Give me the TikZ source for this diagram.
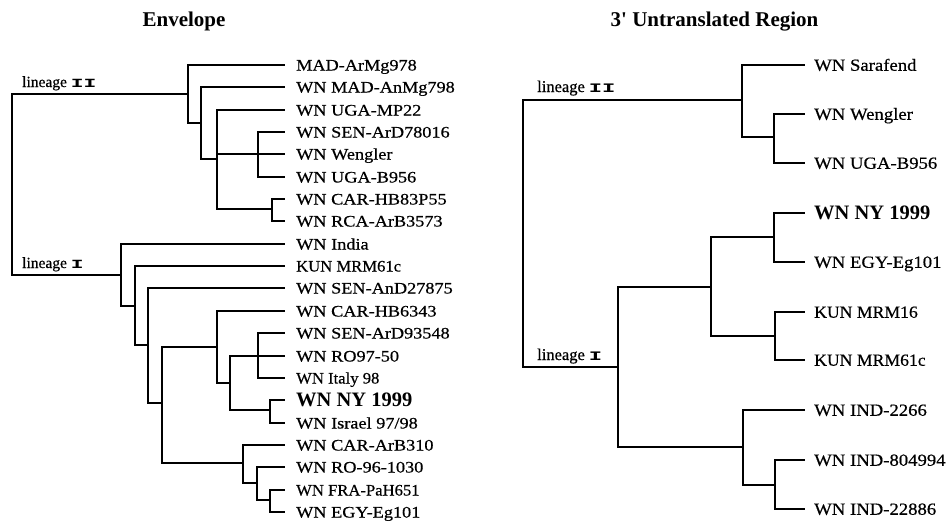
\documentclass[tikz,border=0pt]{standalone}
\usepackage{fontspec}
\setmainfont{Liberation Serif}
\newfontfamily\lfnt[FakeStretch=1.14,FakeBold=0.5]{Liberation Serif}
\newfontfamily\lnarrow[FakeStretch=1.04,FakeBold=0.5]{Liberation Serif}
\newfontfamily\rfnt[FakeStretch=1.1,FakeBold=0.5]{Liberation Serif}
\newfontfamily\ttlfnt[Ligatures=TeXOff]{Liberation Serif}
\newfontfamily\linfnt[FakeBold=0.6]{Liberation Serif}
\newfontfamily\monof[FakeStretch=1.7]{Liberation Mono}
\begin{document}
\begin{tikzpicture}[x=1pt,y=-1pt,
  br/.style={line width=2pt, line join=miter},
  leafL/.style={anchor=west, inner xsep=11pt, inner ysep=0pt, text height=11pt, text depth=0pt,
     font=\lfnt\fontsize{16}{18}\selectfont},
  leafLn/.style={leafL, font=\lnarrow\fontsize{16}{18}\selectfont},
  leafR/.style={anchor=west, inner xsep=9pt, inner ysep=0pt, text height=11.5pt, text depth=0pt,
     font=\rfnt\fontsize{17}{19}\selectfont},
  leafRn/.style={leafR, font=\lnarrow\fontsize{17}{19}\selectfont},
  nybold/.style={text height=13.5pt, font=\ttlfnt\bfseries\fontsize{20.5}{23}\selectfont},
  ttl/.style={anchor=base, inner sep=0pt, font=\ttlfnt\bfseries\fontsize{21}{24}\selectfont},
  lin/.style={anchor=base west, inner sep=0pt}
]
\useasboundingbox (0,0) rectangle (952,523);

% titles
\node[ttl] (t1) at (184,26.5) {Envelope};
\node[ttl] (t2) at (714.5,26.5) {3' Untranslated Region};

% ---------- Envelope tree leaves ----------
\node[leafL] (l0) at (285,65) {MAD-ArMg978};
\node[leafL] (l1) at (285,87) {WN MAD-AnMg798};
\node[leafL] (l2) at (285,110) {WN UGA-MP22};
\node[leafL] (l3) at (285,132) {WN SEN-ArD78016};
\node[leafL] (l4) at (285,154) {WN Wengler};
\node[leafL] (l5) at (285,177) {WN UGA-B956};
\node[leafL] (l6) at (285,199) {WN CAR-HB83P55};
\node[leafL] (l7) at (285,221) {WN RCA-ArB3573};
\node[leafL] (l8) at (285,244) {WN India};
\node[leafLn] (l9) at (285,266) {KUN MRM61c};
\node[leafL] (l10) at (285,288) {WN SEN-AnD27875};
\node[leafL] (l11) at (285,311) {WN CAR-HB6343};
\node[leafL] (l12) at (285,333) {WN SEN-ArD93548};
\node[leafL] (l13) at (285,356) {WN RO97-50};
\node[leafLn] (l14) at (285,378) {WN Italy 98};
\node[leafL,nybold] (l15) at (285,400) {WN NY 1999};
\node[leafL] (l16) at (285,423) {WN Israel 97/98};
\node[leafL] (l17) at (285,445) {WN CAR-ArB310};
\node[leafL] (l18) at (285,467) {WN RO-96-1030};
\node[leafLn] (l19) at (285,490) {WN FRA-PaH651};
\node[leafL] (l20) at (285,512) {WN EGY-Eg101};

% internal nodes
\coordinate (Lr) at (12,184);
\coordinate (A) at (188,94);
\coordinate (B) at (201,123);
\coordinate (C) at (217,159);
\coordinate (D) at (258,154);
\coordinate (E) at (272,209);
\coordinate (F) at (121,275);
\coordinate (G) at (135,306);
\coordinate (H) at (148,345);
\coordinate (I) at (162,403);
\coordinate (J) at (217,347);
\coordinate (K) at (230,383);
\coordinate (Lc) at (258,356);
\coordinate (M) at (270,410);
\coordinate (N) at (243,463);
\coordinate (O) at (257,483);
\coordinate (P) at (270,500);

\draw[br] (Lr) |- (A);
\draw[br] (Lr) |- (F);
\draw[br] (A) |- (l0.west);
\draw[br] (A) |- (B);
\draw[br] (B) |- (l1.west);
\draw[br] (B) |- (C);
\draw[br] (C) |- (l2.west);
\draw[br] (C) |- (D);
\draw[br] (C) |- (E);
\draw[br] (D) |- (l3.west);
\draw[br] (D) |- (l4.west);
\draw[br] (D) |- (l5.west);
\draw[br] (E) |- (l6.west);
\draw[br] (E) |- (l7.west);
\draw[br] (F) |- (l8.west);
\draw[br] (F) |- (G);
\draw[br] (G) |- (l9.west);
\draw[br] (G) |- (H);
\draw[br] (H) |- (l10.west);
\draw[br] (H) |- (I);
\draw[br] (I) |- (J);
\draw[br] (I) |- (N);
\draw[br] (J) |- (l11.west);
\draw[br] (J) |- (K);
\draw[br] (K) |- (Lc);
\draw[br] (K) |- (M);
\draw[br] (Lc) |- (l12.west);
\draw[br] (Lc) |- (l13.west);
\draw[br] (Lc) |- (l14.west);
\draw[br] (M) |- (l15.west);
\draw[br] (M) |- (l16.west);
\draw[br] (N) |- (l17.west);
\draw[br] (N) |- (O);
\draw[br] (O) |- (l18.west);
\draw[br] (O) |- (P);
\draw[br] (P) |- (l19.west);
\draw[br] (P) |- (l20.west);

\node[lin] (lin2L) at (22,87) {\linfnt\fontsize{15.5}{17}\selectfont lineage \monof\bfseries\fontsize{12.5}{13}\selectfont II};
\node[lin] (lin1L) at (22,268) {\linfnt\fontsize{15.5}{17}\selectfont lineage \monof\bfseries\fontsize{12.5}{13}\selectfont I};

% ---------- 3' UTR tree ----------
\node[leafR] (r0) at (805,65) {WN Sarafend};
\node[leafR] (r1) at (805,114) {WN Wengler};
\node[leafR] (r2) at (805,163) {WN UGA-B956};
\node[leafR,nybold] (r3) at (805,213) {WN NY 1999};
\node[leafR] (r4) at (805,262) {WN EGY-Eg101};
\node[leafRn] (r5) at (805,312) {KUN MRM16};
\node[leafRn] (r6) at (805,360) {KUN MRM61c};
\node[leafR] (r7) at (805,410) {WN IND-2266};
\node[leafR] (r8) at (805,460) {WN IND-804994};
\node[leafR] (r9) at (805,509) {WN IND-22886};

\coordinate (Rr) at (523,233);
\coordinate (R2) at (742,100);
\coordinate (Ra) at (774,137);
\coordinate (R1) at (618,367);
\coordinate (Rb) at (711,287);
\coordinate (Rd) at (774,237);
\coordinate (Re) at (775,336);
\coordinate (Rc) at (743,447);
\coordinate (Rf) at (775,485);

\draw[br] (Rr) |- (R2);
\draw[br] (Rr) |- (R1);
\draw[br] (R2) |- (r0.west);
\draw[br] (R2) |- (Ra);
\draw[br] (Ra) |- (r1.west);
\draw[br] (Ra) |- (r2.west);
\draw[br] (R1) |- (Rb);
\draw[br] (R1) |- (Rc);
\draw[br] (Rb) |- (Rd);
\draw[br] (Rb) |- (Re);
\draw[br] (Rd) |- (r3.west);
\draw[br] (Rd) |- (r4.west);
\draw[br] (Re) |- (r5.west);
\draw[br] (Re) |- (r6.west);
\draw[br] (Rc) |- (r7.west);
\draw[br] (Rc) |- (Rf);
\draw[br] (Rf) |- (r8.west);
\draw[br] (Rf) |- (r9.west);

\node[lin] (lin2R) at (537,92) {\linfnt\fontsize{16.5}{18}\selectfont lineage \monof\bfseries\fontsize{13}{13}\selectfont II};
\node[lin] (lin1R) at (537,360) {\linfnt\fontsize{16.5}{18}\selectfont lineage \monof\bfseries\fontsize{13}{13}\selectfont I};
\end{tikzpicture}
\end{document}
